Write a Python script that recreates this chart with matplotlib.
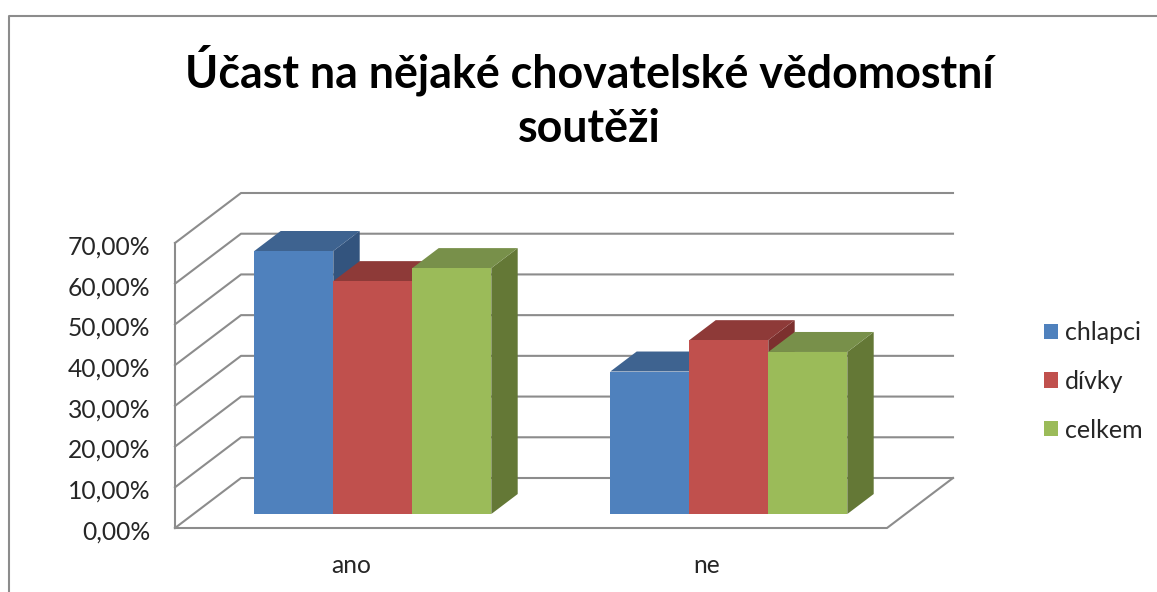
import matplotlib
matplotlib.use('Agg')
import matplotlib.pyplot as plt
from matplotlib.lines import Line2D
from matplotlib.patches import Patch, Polygon
from matplotlib.transforms import ScaledTranslation

plt.rcParams['font.family'] = ['Lato', 'DejaVu Sans']

categories = ['ano', 'ne']
series_names = ['chlapci', 'dívky', 'celkem']
chlapci = [64.6, 35.0]
divky = [57.2, 42.7]
celkem = [60.4, 39.8]
yticks = [0, 10, 20, 30, 40, 50, 60, 70]
ytick_labels = ['0,00%', '10,00%', '20,00%', '30,00%', '40,00%', '50,00%', '60,00%', '70,00%']
title = 'Účast na nějaké chovatelské vědomostní\nsoutěži'

W, H = 1157, 592
front_c = ['#4F81BD', '#C0504D', '#9BBB59']
top_c = ['#3E6390', '#8E3A38', '#78904A']
side_c = ['#33547E', '#7C302E', '#647836']
grid_c = '#8C8C8C'

fig = plt.figure(figsize=(W / 100, H / 100), dpi=100, facecolor='white')
# axes is the front plane of the fake 3d box
ax = fig.add_axes([175 / W, 1 - 528 / H, 712 / W, 285 / H])
ax.set_xlim(0, 2)
ax.set_ylim(0, 70)
ax.patch.set_visible(False)
for s in ax.spines.values():
    s.set_visible(False)

dx = 66 / 356   # box depth in data units
dy = 50 / (285 / 70)
bar_w = 79 / 356
bar_front = 0.30  # where the bars sit inside the depth
bar_back = 0.70
drop = 0.25  # bars sit one pixel lower than the exact depth fraction


def shift(x, y, f):
    return (x + dx * f, y + dy * f - drop)


# walls
for t in yticks:
    ax.plot([0, dx, 2 + dx], [t, t + dy, t + dy], color=grid_c, lw=1.5, clip_on=False, zorder=1)
ax.plot([0, 2, 2 + dx], [0, 0, dy], color=grid_c, lw=1.5, clip_on=False, zorder=1)
ax.plot([0, 0], [0, 70], color=grid_c, lw=1.5, clip_on=False, zorder=1)

# bars
for i, vals in enumerate([chlapci, divky, celkem]):
    for j, v in enumerate(vals):
        x0 = j + 0.5 + (i - 1.5) * bar_w
        x1 = x0 + bar_w
        side = [shift(x1, 0, bar_front), shift(x1, 0, bar_back), shift(x1, v, bar_back), shift(x1, v, bar_front)]
        top = [shift(x0, v, bar_front), shift(x1, v, bar_front), shift(x1, v, bar_back), shift(x0, v, bar_back)]
        ax.add_patch(Polygon(side, fc=side_c[i], ec='none', clip_on=False, zorder=2 + i))
        ax.add_patch(Polygon(top, fc=top_c[i], ec='none', clip_on=False, zorder=2 + i))
        ax.bar(x0 + bar_w / 2 + dx * bar_front, v, bar_w, bottom=dy * bar_front - drop, color=front_c[i],
               clip_on=False, zorder=2.5 + i)

ax.set_xticks([0.5, 1.5], categories)
ax.set_yticks(yticks, ytick_labels)
ax.tick_params(length=0, labelsize=17.7, labelcolor='#262626')
ax.tick_params(axis='x', pad=19)
ax.tick_params(axis='y', pad=17.8)
nudge = ScaledTranslation(0, -2 / 100, fig.dpi_scale_trans)
for lab in ax.get_yticklabels():
    lab.set_transform(lab.get_transform() + nudge)
nudge_x = ScaledTranslation(-2 / 100, 0, fig.dpi_scale_trans)
for lab in ax.get_xticklabels():
    lab.set_transform(lab.get_transform() + nudge_x)

fig.text(589 / W, 1 - 97 / H, title, ha='center', va='center', fontsize=32.2, fontweight='bold',
         color='black', linespacing=1.36)

handles = [Patch(fc=c, ec='none') for c in front_c]
fig.legend(handles, series_names, loc='upper left', bbox_to_anchor=(1044 / W, 1 - 321 / H),
           frameon=False, fontsize=18, labelcolor='#262626', handlelength=0.56, handleheight=0.56,
           handletextpad=0.28, labelspacing=1.03, borderaxespad=0, borderpad=0)

# outer frame, only top and left show in the crop
fig.add_artist(Line2D([8.5 / W, 8.5 / W, 1], [0, 1 - 15.5 / H, 1 - 15.5 / H], color='#8C8C8C', lw=1.5))

fig.savefig('out.png', dpi=100)
